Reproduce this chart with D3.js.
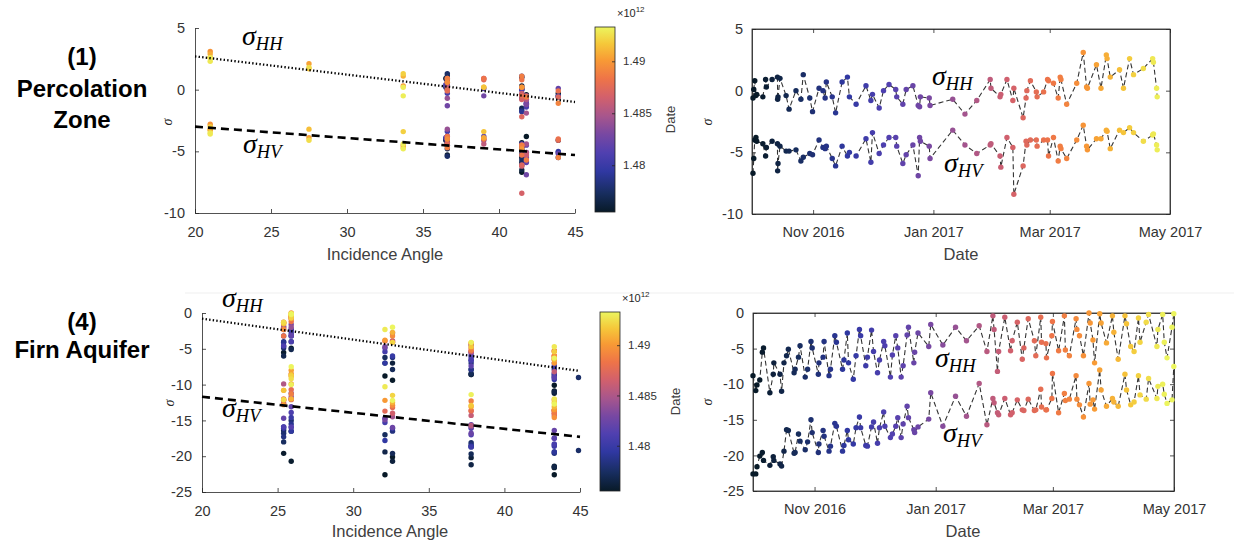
<!DOCTYPE html>
<html>
<head>
<meta charset="utf-8">
<script src="https://cdn.jsdelivr.net/npm/d3@7"></script>
<style>
	body { margin: 0; background: #fff; }
	svg { display: block; }
</style>
</head>
<body>
<svg width="1234" height="544"></svg>
<script>
const SANS = "'Liberation Sans', Arial, sans-serif"
const SERIF = "'Liberation Serif', 'DejaVu Serif', serif"
const INK = "#262626"

// dates are days after 1 Oct 2016 (UTC)
const dayZero = Date.UTC(2016, 9, 1)
const msPerDay = 864e5

// colour bar (Date, x 10^12 ms)
const cbRange = [1.4755e12, 1.4933e12]
const cbTicks = [1.48e12, 1.485e12, 1.49e12]
const cmapStops = [0, 0.1, 0.22, 0.32, 0.42, 0.52, 0.62, 0.72, 0.82, 0.91, 1]
const cmapColors = ["#081a28", "#172d5e", "#3038a2", "#5040b0", "#7848a2", "#a8568c",
	"#d2606c", "#ee7448", "#f89a35", "#f5c83a", "#ecf55e"]

const angleTicks = [20, 25, 30, 35, 40, 45]
const dateDomain = ["2016-10-01", "2017-05-01"]
const dateTicks = ["2016-11-01", "2017-01-01", "2017-03-01", "2017-05-01"]
const dateTickLabels = ["Nov 2016", "Jan 2017", "Mar 2017", "May 2017"]

// (1) Percolation Zone
const pzDay = [0.5, 0.9, 1.4, 2.0, 2.4, 5.5, 6.9, 7.3, 10.2, 12.9, 13.0, 13.2, 14.2, 17.3, 18.8,
	22.3, 24.8, 26.0, 29.3, 30.7, 34.0, 36.0, 37.1, 37.7, 40.7, 42.4, 45.7, 48.4, 49.4, 52.8,
	57.8, 60.3, 61.1, 64.5, 66.7, 69.5, 72.9, 73.4, 76.5, 78.2, 81.6, 84.3, 85.0, 85.4, 89.9,
	90.3, 101.8, 108.0, 114.0, 120.8, 121.2, 125.8, 126.2, 129.3, 132.3, 132.8, 137.5, 139.0,
	139.4, 141.2, 144.2, 144.6, 147.9, 149.9, 150.4, 152.9, 155.3, 156.3, 156.7, 159.6, 164.7,
	168.0, 169.7, 170.1, 174.7, 177.0, 179.7, 180.1, 181.7, 186.4, 188.4, 191.5, 193.5, 198.5,
	203.2, 203.6, 205.2, 205.5]
const pzAngle = [41.5, 41.5, 36.6, 41.8, 43.9, 41.5, 36.6, 41.5, 36.5, 36.6, 41.5, 41.5, 41.5, 41.5, 41.5,
	36.6, 41.5, 36.6, 43.9, 41.5, 36.5, 41.5, 41.5, 36.6, 43.9, 41.5, 36.6, 41.5, 43.9, 41.8,
	36.5, 41.8, 36.6, 41.8, 41.5, 36.6, 39, 41.8, 41.8, 43.9, 36.6, 41.8, 36.6, 39, 41.5,
	41.8, 36.6, 41.8, 41.8, 39, 36.6, 41.8, 41.5, 36.6, 41.5, 41.5, 41.5, 43.9,
	36.6, 39, 36.6, 41.5, 43.9, 39, 41.5, 36.6, 41.8, 41.5, 36.6, 43.9, 36.6,
	21, 33.7, 41.5, 27.5, 39, 21, 21, 33.7, 27.5, 39, 21, 33.7, 27.5,
	21, 21, 33.7, 33.7]
const pzHH = [-0.6, 0.1, 0.8, -0.4, -0.3, -0.5, 0.9, 0.3, 0.9, 1.1, -0.7, -0.5, 1.0, -0.4, -1.5,
	0.0, -0.7, 1.3, -0.6, -1.7, 0.2, 0.0, -0.6, 0.7, -0.5, -1.8, 0.7, 1.1, -0.5, -1.1,
	0.4, -0.8, -0.3, -1.4, 0.0, 0.5, 0.1, -0.5, -1.1, 0.1, 0.4, -1.2, -1.3, -0.5, -0.6,
	-1.2, -0.7, -1.9, -0.8, 0.9, 0.2, -0.5, -0.3, 0.9, -0.8, 0.2, -2.2, -0.6,
	0.0, 0.8, -0.1, -0.5, -0.1, 0.9, 0.8, 0.6, -0.6, 1.1, 0.9, -1.1, 0.6,
	3.1, 0.3, 0.2, 2.1, 0.2, 2.9, 2.6, 1.1, 1.7, 0.2, 2.6, 1.3, 1.8,
	2.6, 2.3, 0.2, -0.5]
const pzHV = [-6.7, -5.5, -4.0, -3.8, -4.1, -4.3, -5.3, -4.6, -4.1, -4.3, -6.5, -5.9, -4.5, -4.9, -4.9,
	-4.8, -5.7, -5.4, -5.1, -5.2, -4.0, -4.6, -4.7, -4.5, -5.5, -6.1, -4.5, -5.3, -5.0, -5.3,
	-3.9, -5.8, -3.4, -5.1, -4.4, -3.8, -3.8, -4.5, -5.9, -5.2, -4.4, -6.9, -3.8, -4.1, -4.5,
	-5.5, -3.2, -4.4, -5.1, -4.4, -4.3, -5.3, -6.2, -3.8, -4.6, -8.4, -6.1, -4.1,
	-4.4, -4.0, -4.0, -4.5, -4.0, -4.0, -5.3, -3.8, -5.7, -4.5, -4.7, -5.5, -4.0,
	-2.8, -4.5, -4.8, -3.9, -3.9, -3.2, -3.3, -4.7, -3.2, -3.4, -3.0, -3.4, -4.1,
	-3.6, -3.5, -4.4, -4.8]
const pzFitHH = [2.7, -1.0] // trend value at 20 and 45 degrees
const pzFitHV = [-3.0, -5.3]
const pzTicksY = [-10, -5, 0, 5]

// (4) Firn Aquifer
const faDay = [0, 1.4, 2.0, 3.4, 4.7, 5.3, 8.5, 10.2, 10.5, 13.6, 14.4, 15.6, 16.9, 17.8, 20.7,
	21.2, 22.9, 23.7, 26.3, 27.5, 29.2, 29.8, 32.9, 33.2, 35.3, 35.8, 38.3, 39.0, 41.2, 42.0,
	45.1, 45.8, 47.5, 48.1, 50.5, 51.9, 53.6, 54.2, 56.8, 57.6, 59.7, 60.7, 62.7, 63.7, 65.8,
	66.4, 69.2, 70.2, 71.9, 72.9, 74.6, 75.6, 77.6, 78.3, 81.0, 81.4, 83.1, 88.5, 89.5, 95.6,
	102.0, 107.5, 113.9, 117.8, 120.8, 121.4, 123.1, 123.7, 126.8, 129.7, 130.5, 133.1, 135.6,
	136.4, 138.6, 141.7, 142.4, 144.9, 145.3, 147.5, 147.8, 150.5, 150.8, 153.9, 156.8, 157.3,
	159.3, 162.7, 163.1, 164.4, 166.4, 169.2, 169.8, 171.2, 172.0, 174.6, 175.3, 178.0, 181.0,
	181.7, 183.9, 187.3, 188.1, 190.2, 191.9, 194.1, 194.9, 198.0, 199.2, 203.4, 203.9, 206.3,
	207.1, 208.5, 211.0, 211.9]
const faAngle = [32.1, 43.3, 43.3, 32.6, 25.4, 25.9, 43.3, 37.8, 32.6, 37.8, 43.3, 32.1, 25.4, 25.9, 37.8,
	32.6, 32.1, 25.4, 44.9, 37.8, 25.9, 25.4, 43.3, 37.8, 32.6, 25.4, 43.3, 37.8, 25.9, 25.4,
	43.3, 37.8, 25.9, 32.1, 43.3, 32.6, 25.9, 25.4, 43.3, 37.8, 25.9, 32.1, 43.3, 37.8, 25.9,
	25.4, 43.3, 37.8, 25.9, 32.1, 43.3, 37.8, 25.9, 25.4, 43.3, 37.8, 32.6, 32.1, 25.9, 37.8,
	25.9, 32.6, 25.4, 37.8, 25.9, 25.4, 43.3, 37.8, 25.9, 43.3, 32.6, 25.4, 43.3,
	37.8, 25.9, 32.1, 43.3, 25.9, 32.6, 37.8, 43.3, 25.4, 25.9, 43.3, 25.9, 37.8,
	43.3, 25.9, 25.4, 32.6, 43.3, 25.9, 25.4, 32.1, 43.3, 25.9, 25.4, 37.8, 25.9,
	32.6, 43.3, 25.9, 25.4, 37.8, 43.3, 25.9, 32.6, 25.4, 25.9, 43.3, 32.1, 25.9,
	37.8, 43.3, 32.6, 25.9]
const faHH = [-8.8, -10.9, -10.1, -9.4, -5.5, -4.9, -11.2, -8.6, -7.0, -8.6, -11.0, -7.0, -6.0, -5.1, -8.4,
	-7.9, -6.2, -4.6, -9.0, -7.9, -4.0, -4.9, -8.6, -7.0, -6.2, -4.0, -8.8, -7.9, -3.2, -4.1,
	-7.9, -6.6, -2.8, -7.0, -9.3, -6.0, -2.3, -3.2, -7.4, -6.2, -2.4, -5.4, -8.4, -6.6, -4.0,
	-4.6, -9.0, -5.9, -3.2, -4.9, -9.0, -7.4, -3.1, -2.0, -7.0, -5.5, -2.8, -4.7, -1.6, -4.5,
	-2.0, -3.9, -1.8, -5.4, -0.4, -2.3, -8.2, -5.4, -0.6, -5.3, -3.9, -1.3, -6.5,
	-4.9, -0.8, -3.9, -6.0, -0.6, -4.1, -4.3, -6.3, -3.2, -1.2, -5.3, -0.4, -5.2,
	-6.0, -0.8, -2.3, -3.2, -6.0, 0.0, -1.4, -3.8, -7.0, -0.1, -1.4, -4.2, -0.4,
	-2.7, -6.5, -0.4, -1.5, -4.7, -5.4, -0.7, -4.1, -1.3, -0.2, -4.7, -2.3, -0.2,
	-4.1, -6.3, -2.0, -0.1]
const faHV = [-22.6, -22.6, -21.6, -20.1, -19.6, -20.7, -21.4, -20.2, -20.7, -21.2, -21.5, -19.4, -16.4, -16.5, -19.7,
	-19.6, -17.0, -18.0, -19.2, -18.1, -15.0, -16.8, -19.6, -18.4, -16.5, -17.3, -19.4, -18.7, -15.5, -15.9,
	-19.4, -18.6, -16.5, -17.8, -18.4, -16.1, -14.6, -16.1, -18.6, -18.7, -16.0, -15.3, -18.3, -16.1, -13.9,
	-15.9, -17.5, -17.0, -15.9, -14.7, -17.5, -15.6, -13.1, -14.7, -16.4, -16.8, -16.0, -14.9, -11.2, -15.9,
	-11.7, -14.5, -9.9, -15.7, -12.0, -12.6, -14.0, -14.3, -12.0, -14.3, -14.0, -12.2, -13.6,
	-13.7, -12.1, -13.7, -13.6, -10.7, -13.2, -13.6, -13.6, -12.0, -8.5, -14.0, -11.3, -12.3,
	-12.1, -8.8, -12.1, -12.9, -14.6, -9.9, -12.8, -12.2, -13.5, -8.0, -10.8, -13.1, -12.0,
	-12.5, -13.1, -8.6, -10.8, -12.9, -12.5, -8.8, -11.5, -12.1, -9.2, -12.0, -10.3, -10.0,
	-11.4, -12.7, -12.2, -7.5]
const faFitHH = [-0.8, -8.1]
const faFitHV = [-11.7, -17.3]
const faTicksY = [-25, -20, -15, -10, -5, 0]

const svg = d3.select("svg")

const cmap = d3.scaleLinear()
	.domain(cmapStops.map(s => cbRange[0] + s * (cbRange[1] - cbRange[0])))
	.range(cmapColors)
	.clamp(true)
const colorOf = day => cmap(dayZero + day * msPerDay)

function styleAxis(g, size) {
	g.attr("font-family", SANS).attr("font-size", size)
	g.select(".domain").attr("stroke", INK).attr("stroke-width", 0.8)
	g.selectAll(".tick line").attr("stroke", INK).attr("stroke-width", 0.8)
	g.selectAll(".tick text").attr("fill", "#333")
}

function sigma(x, y, sub) {
	const t = svg.append("text")
		.attr("x", x).attr("y", y)
		.attr("font-family", SERIF).attr("font-style", "italic").attr("fill", "#000")
	t.append("tspan").attr("font-size", 28).text("σ")
	t.append("tspan").attr("font-size", 18.5).attr("dy", 5).text(sub)
}

function yLabel(x, y) {
	svg.append("text")
		.attr("transform", `translate(${x},${y}) rotate(-90)`)
		.attr("text-anchor", "middle")
		.attr("font-family", SERIF).attr("font-style", "italic")
		.attr("font-size", 14).attr("fill", INK)
		.text("σ")
}

function xLabel(x, y, txt) {
	svg.append("text")
		.attr("x", x).attr("y", y)
		.attr("text-anchor", "middle")
		.attr("font-family", SANS).attr("font-size", 16.5).attr("fill", "#404040")
		.text(txt)
}

function points(day, a, b) {
	return day.map((d, i) => ({ day: d, a: a[i], v: b[i] }))
}

function scatterPanel(p) {
	const g = svg.append("g")
	const x = d3.scaleLinear([20, 45], [p.x0, p.x1])
	const y = d3.scaleLinear([p.yTicks[0], p.yTicks[p.yTicks.length - 1]], [p.y1, p.y0])

	g.append("g").attr("transform", `translate(0,${p.y1})`)
		.call(d3.axisBottom(x).tickValues(angleTicks).tickFormat(d => String(d))
			.tickSizeInner(-4).tickSizeOuter(0).tickPadding(14))
		.call(styleAxis, 14.5)
	g.append("g").attr("transform", `translate(${p.x0},0)`)
		.call(d3.axisLeft(y).tickValues(p.yTicks).tickFormat(d => String(d))
			.tickSizeInner(-4).tickSizeOuter(0).tickPadding(10))
		.call(styleAxis, 14.5)

	for (const vals of [p.hh, p.hv]) {
		g.append("g").selectAll("circle")
			.data(points(p.day, p.angle, vals))
			.join("circle")
			.attr("cx", d => x(d.a))
			.attr("cy", d => y(d.v))
			.attr("r", 2.7)
			.attr("fill", d => colorOf(d.day))
	}

	g.append("line")
		.attr("x1", x(20)).attr("y1", y(p.fitHH[0]))
		.attr("x2", x(45)).attr("y2", y(p.fitHH[1]))
		.attr("stroke", "#000").attr("stroke-width", 2.3)
		.attr("stroke-dasharray", "1.4,2.2")
	g.append("line")
		.attr("x1", x(20)).attr("y1", y(p.fitHV[0]))
		.attr("x2", x(45)).attr("y2", y(p.fitHV[1]))
		.attr("stroke", "#000").attr("stroke-width", 2.6)
		.attr("stroke-dasharray", "8,5")
}

function seriesPanel(p) {
	const g = svg.append("g")
	const x = d3.scaleUtc(dateDomain.map(s => new Date(s)), [p.x0, p.x1])
	const y = d3.scaleLinear([p.yTicks[0], p.yTicks[p.yTicks.length - 1]], [p.y1, p.y0])
	const tickDates = dateTicks.map(s => new Date(s))

	g.append("rect")
		.attr("x", p.x0).attr("y", p.y0)
		.attr("width", p.x1 - p.x0).attr("height", p.y1 - p.y0)
		.attr("fill", "none").attr("stroke", INK).attr("stroke-width", 0.8)

	g.append("g").attr("transform", `translate(0,${p.y1})`)
		.call(d3.axisBottom(x).tickValues(tickDates).tickFormat((d, i) => dateTickLabels[i])
			.tickSizeInner(-4).tickSizeOuter(0).tickPadding(13))
		.call(styleAxis, 14.5)
	g.append("g").attr("transform", `translate(0,${p.y0})`)
		.call(d3.axisTop(x).tickValues(tickDates).tickFormat("")
			.tickSizeInner(-4).tickSizeOuter(0))
		.call(styleAxis, 14.5)
	g.append("g").attr("transform", `translate(${p.x0},0)`)
		.call(d3.axisLeft(y).tickValues(p.yTicks).tickFormat(d => String(d))
			.tickSizeInner(-4).tickSizeOuter(0).tickPadding(9))
		.call(styleAxis, 14.5)
	g.append("g").attr("transform", `translate(${p.x1},0)`)
		.call(d3.axisRight(y).tickValues(p.yTicks).tickFormat("")
			.tickSizeInner(-4).tickSizeOuter(0))
		.call(styleAxis, 14.5)

	const line = d3.line()
		.x(d => x(new Date(dayZero + d.day * msPerDay)))
		.y(d => y(d.v))

	for (const vals of [p.hh, p.hv]) {
		const pts = points(p.day, p.day, vals)
		g.append("path")
			.attr("d", line(pts))
			.attr("fill", "none")
			.attr("stroke", "#333").attr("stroke-width", 1.1)
			.attr("stroke-dasharray", "5,3")
		g.append("g").selectAll("circle")
			.data(pts)
			.join("circle")
			.attr("cx", d => x(new Date(dayZero + d.day * msPerDay)))
			.attr("cy", d => y(d.v))
			.attr("r", 2.7)
			.attr("fill", d => colorOf(d.day))
	}
}

function colorbar(p) {
	const id = "cb" + p.y0
	const grad = svg.append("defs").append("linearGradient")
		.attr("id", id).attr("x1", 0).attr("y1", 1).attr("x2", 0).attr("y2", 0)
	grad.selectAll("stop").data(cmapStops).join("stop")
		.attr("offset", d => d)
		.attr("stop-color", (d, i) => cmapColors[i])

	svg.append("rect")
		.attr("x", p.x0).attr("y", p.y0)
		.attr("width", p.x1 - p.x0).attr("height", p.y1 - p.y0)
		.attr("fill", `url(#${id})`)
		.attr("stroke", INK).attr("stroke-width", 0.8)

	const y = d3.scaleLinear(cbRange, [p.y1, p.y0])
	svg.append("g").attr("transform", `translate(${p.x1},0)`)
		.call(d3.axisRight(y).tickValues(cbTicks).tickFormat(d => String(+(d / 1e12).toFixed(3)))
			.tickSizeInner(-3).tickSizeOuter(0).tickPadding(8))
		.call(styleAxis, 11.5)
		.call(g => g.select(".domain").remove())

	const ex = svg.append("text")
		.attr("x", p.x1 + 2).attr("y", p.y0 - 10)
		.attr("font-family", SANS).attr("font-size", 11).attr("fill", INK)
	ex.append("tspan").text("×10")
	ex.append("tspan").attr("font-size", 8).attr("dy", -5).text("12")

	svg.append("text")
		.attr("transform", `translate(${p.labelX},${(p.y0 + p.y1) / 2}) rotate(-90)`)
		.attr("text-anchor", "middle")
		.attr("font-family", SANS).attr("font-size", 13).attr("fill", "#404040")
		.text("Date")
}

// faint seam between the two rows of the figure
svg.append("line")
	.attr("x1", 185).attr("x2", 1234).attr("y1", 293).attr("y2", 293)
	.attr("stroke", "#efefef").attr("stroke-width", 1)

// row titles
const titles = [
	{ y: [65, 97, 128], lines: ["(1)", "Percolation", "Zone"] },
	{ y: [330, 358], lines: ["(4)", "Firn Aquifer"] },
]
titles.forEach(t => {
	t.lines.forEach((s, i) => {
		svg.append("text")
			.attr("x", 82).attr("y", t.y[i])
			.attr("text-anchor", "middle")
			.attr("font-family", SANS).attr("font-weight", "bold")
			.attr("font-size", 24).attr("fill", "#000")
			.text(s)
	})
})

// row 1
scatterPanel({ x0: 195, x1: 575, y0: 28, y1: 213, yTicks: pzTicksY,
	day: pzDay, angle: pzAngle, hh: pzHH, hv: pzHV, fitHH: pzFitHH, fitHV: pzFitHV })
colorbar({ x0: 595, x1: 615, y0: 27, y1: 212, labelX: 675 })
seriesPanel({ x0: 752, x1: 1170, y0: 29, y1: 214, yTicks: pzTicksY, day: pzDay, hh: pzHH, hv: pzHV })

// row 2
scatterPanel({ x0: 202, x1: 580, y0: 313, y1: 492, yTicks: faTicksY,
	day: faDay, angle: faAngle, hh: faHH, hv: faHV, fitHH: faFitHH, fitHV: faFitHV })
colorbar({ x0: 600, x1: 620, y0: 312, y1: 491, labelX: 680 })
seriesPanel({ x0: 753, x1: 1174, y0: 313, y1: 491, yTicks: faTicksY, day: faDay, hh: faHH, hv: faHV })

// axis titles
xLabel(385, 260, "Incidence Angle")
xLabel(961, 260, "Date")
xLabel(390, 537, "Incidence Angle")
xLabel(963, 537, "Date")
yLabel(172, 122)
yLabel(712, 122)
yLabel(174, 403)
yLabel(712, 402)

// series annotations
sigma(242, 45, "HH")
sigma(243, 153, "HV")
sigma(932, 85, "HH")
sigma(944, 172, "HV")
sigma(222, 307, "HH")
sigma(222, 417, "HV")
sigma(935, 367, "HH")
sigma(943, 442, "HV")
</script>
</body>
</html>
